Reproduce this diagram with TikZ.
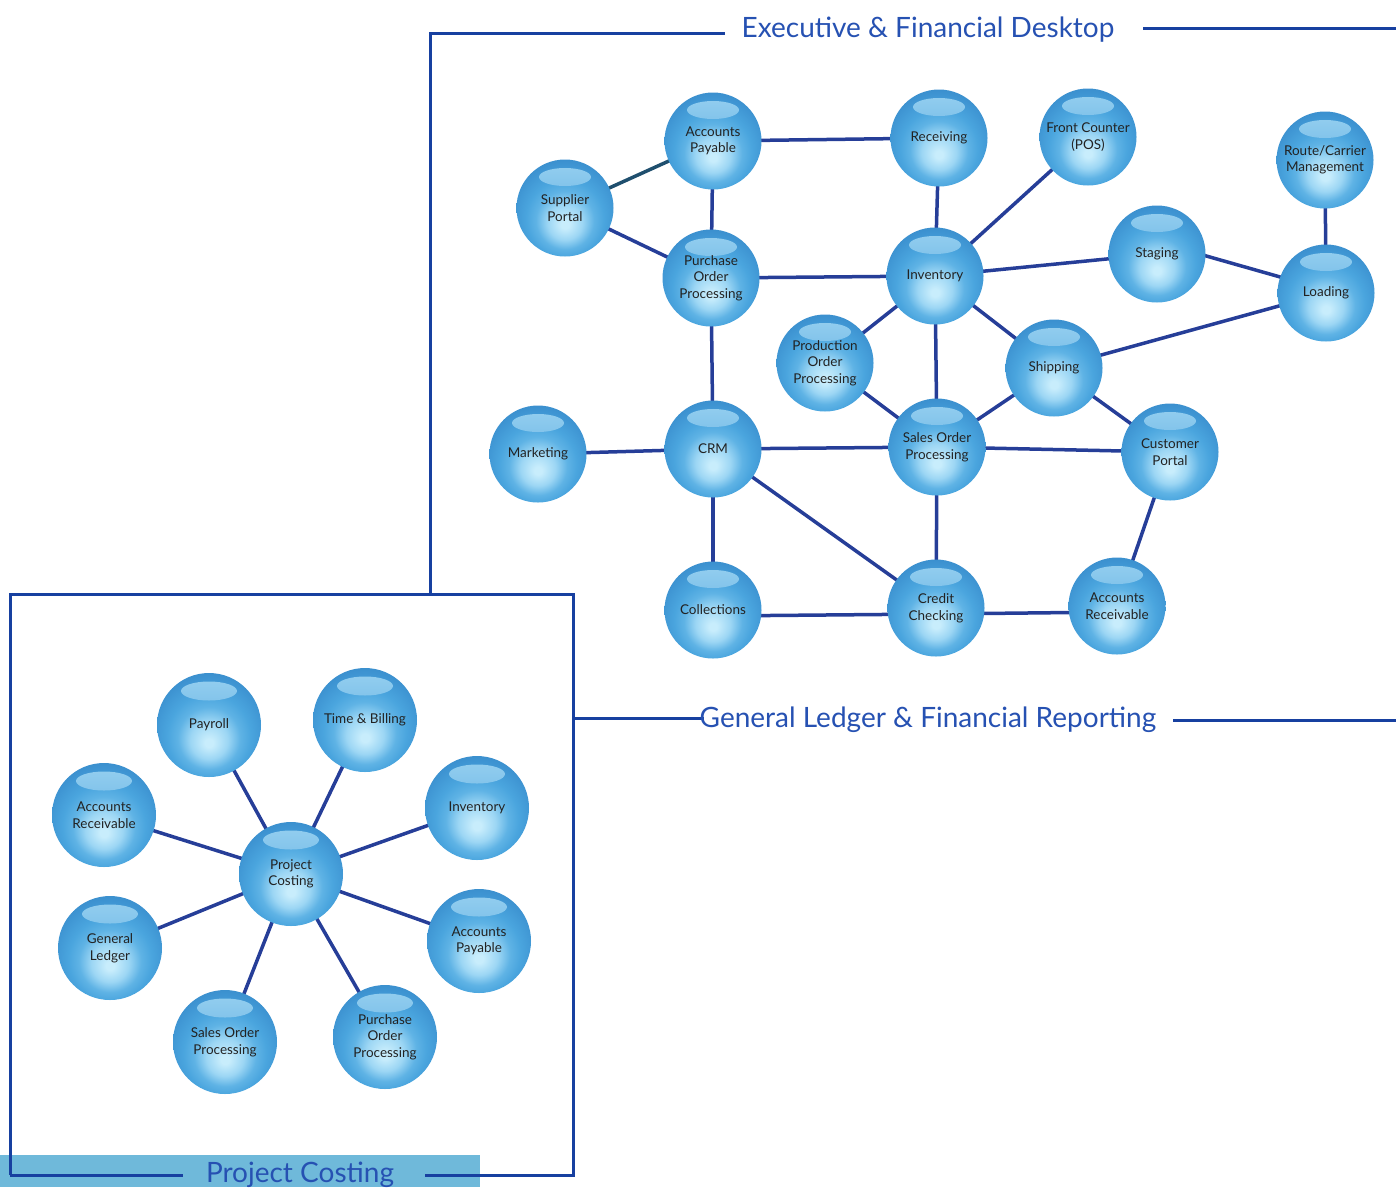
\documentclass[tikz,border=0pt]{standalone}
\usepackage{fontspec}
\setmainfont{Lato}
\usetikzlibrary{backgrounds}
\definecolor{hlc}{HTML}{C8EDFC}
\definecolor{hl2}{HTML}{9CD6F4}
\definecolor{hl3}{HTML}{5FB3E5}
\definecolor{midc}{HTML}{4AA5DE}
\definecolor{sidec}{HTML}{3E94D2}
\definecolor{edgec}{HTML}{3384C4}
\definecolor{linec}{HTML}{263E98}
\definecolor{framec}{HTML}{1740A0}
\definecolor{titlec}{HTML}{2651B2}
\definecolor{tealc}{HTML}{1F4F6E}
\definecolor{barc}{HTML}{6FB9DA}
\definecolor{txtc}{HTML}{222222}
\definecolor{glowtop}{HTML}{97D0F0}
\definecolor{glowbot}{HTML}{4DA4DD}
\pgfdeclareradialshading{ballshade}{\pgfpoint{0bp}{-9bp}}{%
  color(0bp)=(hlc); color(2bp)=(hlc); color(9bp)=(hl2); color(15bp)=(hl3);
  color(20bp)=(midc); color(27bp)=(sidec); color(34bp)=(edgec); color(50bp)=(edgec)}
\tikzset{
  ballA/.style={circle, minimum size=97pt, inner sep=0pt, shading=ballshade,
    text=txtc, align=center, font=\fontsize{13.5}{16.5}\selectfont,
    path picture={\shade[top color=glowtop, bottom color=glowbot]
      ([yshift=31pt]path picture bounding box.center) ellipse [x radius=26pt, y radius=9pt];}},
  ballB/.style={ballA, minimum size=104pt,
    path picture={\shade[top color=glowtop, bottom color=glowbot]
      ([yshift=34pt]path picture bounding box.center) ellipse [x radius=28pt, y radius=9.5pt];}},
  link/.style={draw=linec, line width=3.5pt},
  frame/.style={draw=framec, line width=3pt},
  ttl/.style={text=titlec, font=\fontsize{28}{30}\selectfont, inner sep=0pt, anchor=base}
}
\begin{document}
\begin{tikzpicture}[x=1pt,y=-1pt]
\useasboundingbox (0,0) rectangle (1396,1187);
% bottom bar
\fill[barc] (0,1155) rectangle (480,1187);
% frames
\coordinate (f1) at (430,593);
\coordinate (f2) at (430,33);
\coordinate (f3) at (725,33);
\coordinate (f4) at (1143,28);
\coordinate (f5) at (1396,28);
\draw[frame] (f1) -- (f2) -- (f3);
\draw[frame] (f4) -- (f5);
\node[ttl] (t1) at (928,37) {Executive \& Financial Desktop};
\draw[frame] (10,1175) -- (10,594) -- (573,594) -- (573,1175) -- (425,1175);
\draw[frame] (10,1175) -- (183,1175);
\draw[frame] (573,718) -- (704,718);
\draw[frame] (1173,720) -- (1396,720);
\node[ttl] (t2) at (928,727) {General Ledger \& Financial Reporting};
\node[ttl] (t3) at (300,1182) {Project Costing};

% top graph
\node[ballA] (ap)  at (713,141) {Accounts\\Payable};
\node[ballA] (rcv) at (939,138) {Receiving};
\node[ballA] (fc)  at (1088,137) {Front Counter\\(POS)};
\node[ballA] (rt)  at (1325,160) {Route/Carrier\\Management};
\node[ballA] (sp)  at (565,208) {Supplier\\Portal};
\node[ballA] (pop) at (711,278) {Purchase\\Order\\Processing};
\node[ballA] (inv) at (935,276) {Inventory};
\node[ballA] (stg) at (1157,254) {Staging};
\node[ballA] (ld)  at (1326,293) {Loading};
\node[ballA] (prd) at (825,363) {Production\\Order\\Processing};
\node[ballA] (shp) at (1054,368) {Shipping};
\node[ballA] (mkt) at (538,454) {Marketing};
\node[ballA] (crm) at (713,449) {CRM};
\node[ballA] (sop) at (937,447) {Sales Order\\Processing};
\node[ballA] (cp)  at (1170,452) {Customer\\Portal};
\node[ballA] (col) at (713,610) {Collections};
\node[ballA] (cc)  at (936,608) {Credit\\Checking};
\node[ballA] (ar)  at (1117,606) {Accounts\\Receivable};

% bottom graph
\node[ballB] (pc)   at (291,874) {Project\\Costing};
\node[ballB] (pay)  at (209,725) {Payroll};
\node[ballB] (tb)   at (365,720) {Time \& Billing};
\node[ballB] (inv2) at (477,808) {Inventory};
\node[ballB] (ar2)  at (104,815) {Accounts\\Receivable};
\node[ballB] (gl)   at (110,948) {General\\Ledger};
\node[ballB] (ap2)  at (479,941) {Accounts\\Payable};
\node[ballB] (sop2) at (225,1042) {Sales Order\\Processing};
\node[ballB] (pop2) at (385,1037) {Purchase\\Order\\Processing};

\begin{scope}[on background layer]
\draw[link, draw=tealc] (sp.center) -- (ap.center);
\draw[link] (sp.center) -- (pop.center);
\draw[link] (ap.center) -- (pop.center);
\draw[link] (ap.center) -- (rcv.center);
\draw[link] (rcv.center) -- (inv.center);
\draw[link] (pop.center) -- (inv.center);
\draw[link] (pop.center) -- (crm.center);
\draw[link] (inv.center) -- (fc.center);
\draw[link] (inv.center) -- (stg.center);
\draw[link] ([yshift=12pt]stg.center) -- ([yshift=3pt]ld.center);
\draw[link] (rt.center) -- (ld.center);
\draw[link] (ld.center) -- (shp.center);
\draw[link] (inv.center) -- (prd.center);
\draw[link] (inv.center) -- (sop.center);
\draw[link] (inv.center) -- (shp.center);
\draw[link] (prd.center) -- (sop.center);
\draw[link] (shp.center) -- (sop.center);
\draw[link] (shp.center) -- (cp.center);
\draw[link] (mkt.center) -- (crm.center);
\draw[link] (crm.center) -- (sop.center);
\draw[link] (sop.center) -- (cp.center);
\draw[link] (crm.center) -- (col.center);
\draw[link] (crm.center) -- (cc.center);
\draw[link] (sop.center) -- (cc.center);
\draw[link] ([yshift=-6pt]col.center) -- ([yshift=-6pt]cc.center);
\draw[link] ([yshift=-6pt]cc.center) -- ([yshift=-6pt]ar.center);
\draw[link] (cp.center) -- (ar.center);
\foreach \n in {pay,tb,inv2,ar2,gl,ap2,sop2,pop2}
  \draw[link] (pc.center) -- (\n.center);
\end{scope}
\end{tikzpicture}
\end{document}
